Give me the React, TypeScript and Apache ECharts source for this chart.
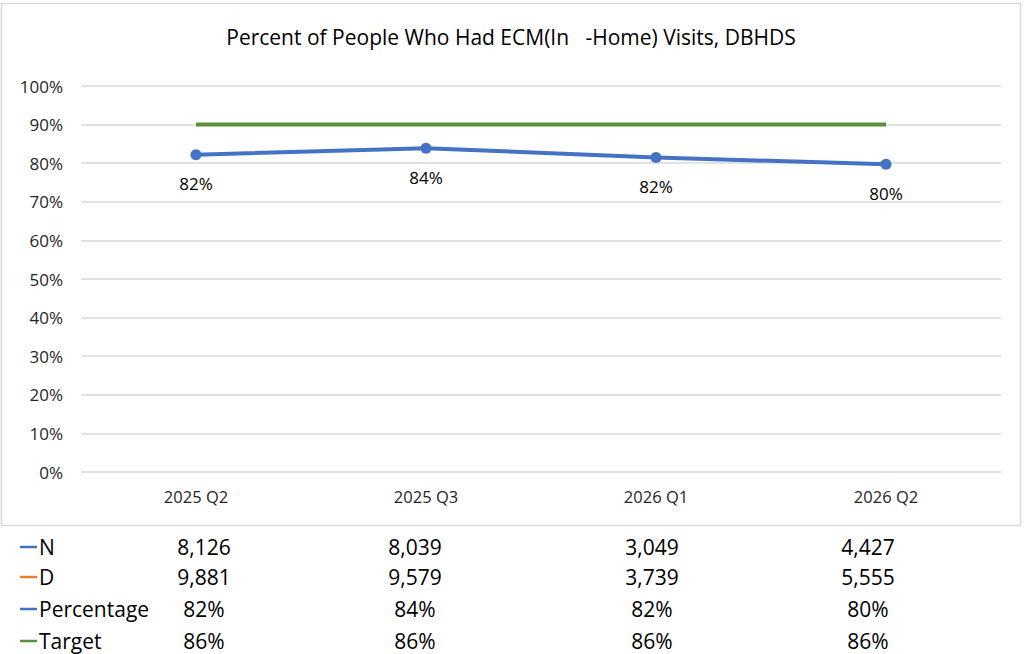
import React, { useEffect, useRef } from "react";
import * as echarts from "echarts";

const categories = ["2025 Q2", "2025 Q3", "2026 Q1", "2026 Q2"];
const percentValues = [82.2, 83.9, 81.5, 79.7];
const targetPlotValues = [90, 90, 90, 90];
const nValues = [8126, 8039, 3049, 4427];
const dValues = [9881, 9579, 3739, 5555];
const percentLabels = ["82%", "84%", "82%", "80%"];
const targetLabels = ["86%", "86%", "86%", "86%"];
const yTicks = [0, 10, 20, 30, 40, 50, 60, 70, 80, 90, 100];

const BLUE = "#4472C4";
const ORANGE = "#ED7D31";
const GREEN = "#5B8F3A";
const FONT = "'Open Sans', 'Noto Sans', sans-serif";

export default function App() {
  const ref = useRef<HTMLDivElement>(null);
  useEffect(() => {
    document.body.style.margin = "0";
    const chart = echarts.init(ref.current!, null, { renderer: "svg" });
    const colX = [204, 415, 652, 868];
    const rowY = [547, 577, 609, 641];
    const rows = [
      { name: "N", color: BLUE, vals: nValues.map((v) => v.toLocaleString("en-US")) },
      { name: "D", color: ORANGE, vals: dValues.map((v) => v.toLocaleString("en-US")) },
      { name: "Percentage", color: BLUE, vals: percentLabels },
      { name: "Target", color: GREEN, vals: targetLabels },
    ];
    const graphics: any[] = [
      {
        type: "rect",
        shape: { x: 1.5, y: 3.5, width: 1019, height: 522 },
        style: { fill: "none", stroke: "#d9d9d9", lineWidth: 1.5 },
        silent: true,
      },
    ];
    rows.forEach((r, i) => {
      graphics.push({
        type: "line",
        shape: { x1: 20, y1: rowY[i], x2: 37, y2: rowY[i] },
        style: { stroke: r.color, lineWidth: 2.5 },
      });
      graphics.push({
        type: "text",
        x: 39,
        y: rowY[i],
        style: { text: r.name, font: `21px ${FONT}`, fill: "#000", textVerticalAlign: "middle", textAlign: "left" },
      });
      r.vals.forEach((v, j) => {
        graphics.push({
          type: "text",
          x: colX[j],
          y: rowY[i],
          style: { text: v, font: `21px ${FONT}`, fill: "#000", textVerticalAlign: "middle", textAlign: "center" },
        });
      });
    });

    chart.setOption({
      animation: false,
      backgroundColor: "#fff",
      title: {
        text: "Percent of People Who Had ECM(In   -Home) Visits, DBHDS",
        left: 506,
        textAlign: "center",
        top: 21,
        textStyle: { fontFamily: FONT, fontSize: 21, fontWeight: "normal", color: "#000" },
      },
      grid: { left: 81, right: 25, top: 86, bottom: 182 },
      xAxis: {
        type: "category",
        data: categories,
        axisLine: { show: false },
        axisTick: { show: false },
        axisLabel: { margin: 16, color: "#262626", fontFamily: FONT, fontSize: 16.5 },
      },
      yAxis: {
        type: "value",
        min: yTicks[0],
        max: yTicks[yTicks.length - 1],
        interval: 10,
        axisLabel: { formatter: "{value}%", margin: 18, color: "#262626", fontFamily: FONT, fontSize: 17 },
        splitLine: { lineStyle: { color: "#d9d9d9", width: 1.5 } },
        axisLine: { show: false },
        axisTick: { show: false },
      },
      series: [
        {
          name: "Target",
          type: "line",
          data: targetPlotValues,
          symbol: "none",
          lineStyle: { color: GREEN, width: 4 },
          itemStyle: { color: GREEN },
        },
        {
          name: "Percentage",
          type: "line",
          data: percentValues,
          symbol: "circle",
          symbolSize: 11,
          lineStyle: { color: BLUE, width: 4 },
          itemStyle: { color: BLUE },
          label: {
            show: true,
            position: "bottom",
            distance: 15,
            formatter: (p: any) => percentLabels[p.dataIndex],
            color: "#000",
            fontFamily: FONT,
            fontSize: 17,
          },
        },
      ],
      graphic: graphics,
    });
    return () => chart.dispose();
  }, []);
  return <div ref={ref} style={{ width: 1026, height: 654 }} />;
}
